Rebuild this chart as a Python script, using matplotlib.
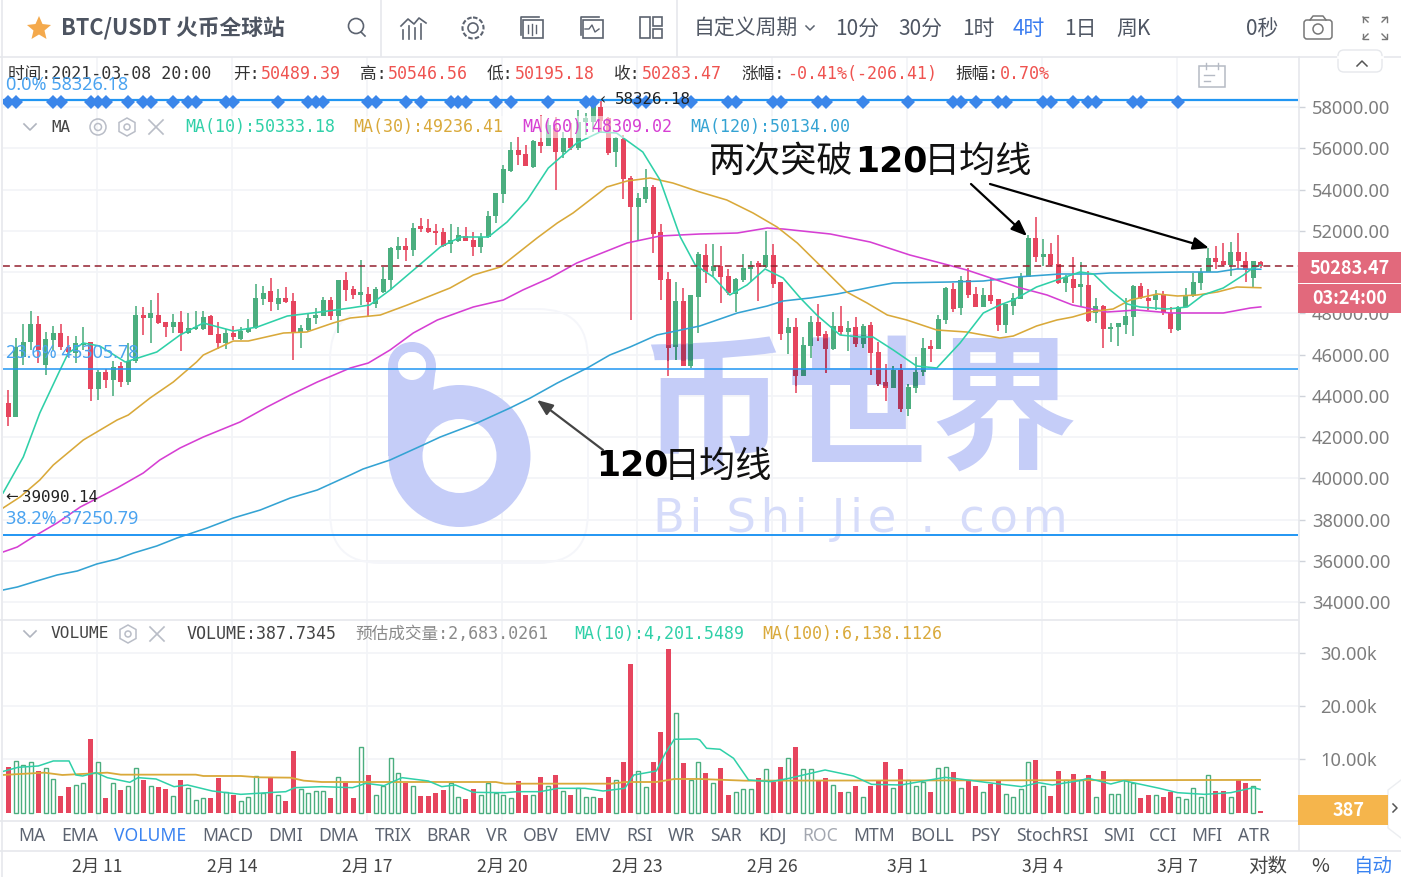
import matplotlib
matplotlib.use("Agg")
import matplotlib.pyplot as plt
from matplotlib.patches import Rectangle, Circle, Polygon, FancyBboxPatch, Wedge
from matplotlib.textpath import TextPath
from matplotlib.font_manager import FontProperties
from matplotlib.transforms import Affine2D

opens = [43630,42990,45900,46590,47480,45490,46700,47060,46380,46060,
46460,46620,44310,45170,44770,45440,44680,45700,47920,47750,
47920,47560,47320,47560,47030,47220,47220,47870,46980,46580,
47030,46740,47080,47270,48680,49100,48450,48720,48590,47110,
47190,47750,47870,48640,47880,49610,49160,48900,48930,48450,
49050,49610,51070,51280,51070,52230,52120,51990,51920,51340,
51520,51760,51550,51230,51680,52720,53770,54910,55920,55710,
55110,56320,56130,56970,55800,56510,56000,57290,57290,58020,
57450,55800,56430,54540,53170,53540,54140,51920,49660,46380,
48590,45460,48810,50830,50070,50310,49820,48920,49610,50150,
50420,50260,50830,49500,47060,47350,44970,46430,47560,46980,
46270,47400,47080,47350,46490,47430,46110,44650,44390,45250,
43340,44390,45140,46410,46270,47670,49180,48270,49610,48920,
48320,48890,48680,47430,48350,48680,49740,51660,50710,50860,
50390,49480,49660,49290,49370,48000,48370,47220,47320,47430,
47800,49340,48760,48640,48920,48000,47190,48290,48850,49450,
50020,50700,50530,50340,50990,50530,49690,50489.39]
closes = [42990,46380,46620,47480,46220,46750,47030,46380,46140,46540,
46580,44310,45170,44770,45410,44680,45700,47920,47750,48000,
47510,47320,47560,47030,47270,47350,47830,46930,46580,47030,
46870,47140,47270,48720,49000,48530,48720,48530,47060,47270,
47790,47920,48640,47880,49610,49130,48890,49030,48530,49160,
49660,51150,51280,51070,52120,52090,51960,51880,51260,51550,
51790,51520,51230,51680,52720,53810,54990,55920,55670,55160,
56350,56130,57130,55800,56510,56030,57290,57450,58100,57340,
55750,56480,54490,53170,53600,54110,51840,49610,46300,48590,
45460,48890,50860,50020,50310,49770,48970,49660,50210,50340,
50260,50830,49400,46990,47320,44970,46460,47560,46900,46250,
47400,47110,47270,46490,47400,46060,44550,44390,45250,43340,
44440,45170,46300,46270,47720,49210,48210,49610,48890,48320,
48890,48610,47430,48450,48720,49740,51660,50710,50860,50340,
49480,49740,49240,49400,47640,48370,47220,47350,47510,47870,
49340,48720,48610,48890,48000,47220,48320,48850,49530,50020,
50700,50500,50340,50990,50530,50100,50530,50283.47]
highs = [44280,46790,47480,48130,47870,47110,47380,47480,46900,46900,
47320,46620,45250,45280,45700,45650,46580,48350,48320,48640,
48970,47560,47960,48110,47990,48110,48110,47920,47590,47220,
47400,47350,47720,49400,49320,49730,49160,49290,49000,47430,
47950,48240,48800,48800,49610,50020,49320,50580,49290,49260,
50260,51230,51680,51630,52360,52630,52550,52310,52120,52310,
52200,52170,51960,51880,52960,53850,55190,56290,56560,56160,
56400,57610,57370,57530,56800,57210,57850,57690,58260,58326,
57530,56560,56640,54660,53810,54990,54220,52330,50020,49530,
49210,48890,50950,51340,51340,51280,50150,49730,50870,50530,
50530,51990,51340,49530,47790,47750,46870,47870,48430,47140,
48080,48370,47640,47800,47460,47560,46590,45540,45460,45520,
44560,45900,46790,46700,47920,49290,49450,49810,50180,49260,
49240,49690,48680,48450,48970,49940,51790,52650,51580,51390,
51790,49860,50740,50500,50050,48720,48400,47540,47540,48720,
49370,49450,49160,49130,49100,48290,48350,49210,49940,50210,
51150,51260,51390,51470,51880,50990,50530,50546.56]
lows = [42540,42950,45490,46220,45570,45010,46220,46220,45900,45570,
46220,43760,43800,44360,43990,44410,44520,45570,46950,46570,
47480,46830,47030,46170,46990,47190,47190,46930,46280,46270,
46700,46700,47060,47220,48400,48110,48160,48510,45730,46300,
47080,47460,47870,47670,47060,48610,48690,48400,47800,48240,
49000,49130,50610,50530,50790,51960,51910,51310,51200,50910,
51440,51500,50780,50940,51630,52360,53330,54870,55190,55160,
55030,55790,56130,53980,55510,55920,55920,56640,56800,56720,
55670,55110,53520,47670,51550,53330,50940,48640,44960,45730,
45460,45330,47030,49450,49800,48480,48890,48080,49530,49530,
48590,50180,49240,46700,46010,44120,44970,45850,46660,45090,
46220,46950,46190,46350,46300,45010,44470,43750,44390,43200,
43040,44120,44980,45620,46270,47480,48080,47920,48760,48320,
48320,48450,47160,47060,47920,48680,49740,50500,50310,50310,
49400,49020,48510,48350,47590,47510,46330,46620,46430,46990,
46910,48680,48160,48160,47920,47060,47160,48290,48810,49130,
50020,50150,50310,49810,50150,49530,49260,50195.18]
volumes = [8625,9750,8875,9438,7813,8313,6375,3063,4750,5250,
5563,13750,9438,2750,5500,4188,5000,8313,6125,5000,
4750,4438,3063,6125,4688,2375,2688,2750,6438,3938,
3313,2188,3000,6938,3625,6625,3250,2188,11500,4438,
3625,4125,4125,2750,6625,5625,2750,12250,7000,3250,
5000,10313,7500,5625,5000,3063,3063,3625,4188,5500,
3000,2500,4438,3250,5500,3750,3250,2688,5875,3313,
3250,6688,5000,7000,4125,3313,4563,3000,3000,2750,
6688,6063,9500,27875,7750,4750,9500,15125,30625,18750,
9250,6125,9500,7500,5500,8313,3313,3813,4438,4438,
6438,8125,5813,8625,10313,12313,8125,8125,6125,6438,
5250,3875,3875,5000,3000,5000,6125,9500,4688,8125,
6125,5000,5813,3875,8313,8625,7563,4688,6125,5000,
3875,5313,6125,3563,3000,4438,9438,9875,5000,3063,
7813,6125,7250,6125,7000,3000,7813,3563,3563,6125,
5500,2750,3313,3313,3000,3875,3000,2500,4688,3000,
7000,4125,4125,3000,6125,5563,5000,387]

ma10_i = [-0.7,2,4.2,6.9,8,10,12.2,15.6,19.8,22.9,26,30,33.2,37.2,41.6,45.6,48.2,50.9,54.5,57.6,60.3,64,66.5,69.2,72,75.8,78.9,81.1,84.6,86.9,89.6,91.6,94,96.2,98.5,100.9,103.3,105.6,107.8,110.9,113.6,115.3,118,121.1,123.8,126.9,130,132.2,134,137.1,139.8,142.9,144.7,146.9,149.2,150.9,154.5,155.9,157.2,159.3,162,164.7,165.9,167]
ma10_v = [39287,41032,43165,45250,46074,46558,46413,45637,46122,46946,47528,47140,47334,47867,48061,48255,48401,49128,50243,51212,51697,51697,52424,53491,55042,56254,56788,56739,55818,54461,51697,50340,49758,48885,49370,50146,49710,48739,47915,46946,46849,46849,46219,45443,45346,46558,48012,48400,48643,49273,49612,50000,49903,49128,48449,48304,48207,48255,48304,48885,49225,49855,50190,50333]
ma30_i = [-0.7,1.56,4.2,6,10,14.5,16,18.9,22,25.1,26,30,32,36.7,39.8,43.3,45.6,49.6,53.2,58.9,62,65.6,70.5,73.2,75.3,79.8,82.5,85.6,88.6,92.2,95.8,99.3,102.5,105.2,107.9,111.8,114.5,117.2,119.8,123.8,127.8,132.2,134,137.1,139.8,141.9,144.2,147.3,149.6,153.2,155.9,158.5,161.2,163.8,167]
ma30_v = [38559,39092,39917,40643,41856,42825,43068,43892,44668,45637,45976,46655,46655,47043,47092,47528,47770,47915,48400,49225,49855,50243,51649,52376,52861,54121,54412,54558,54315,53879,53491,52861,52182,51406,50437,49031,48498,47915,47673,47188,47091,46800,46897,47383,47673,47818,48061,48207,48643,48934,48837,48885,49031,49273,49236]
ma60_i = [-0.7,1.2,3.3,6.5,9.6,12.2,14.5,18,20.2,22.9,26,30.9,34.5,37.6,41.2,45.6,48,50.9,54,57.2,62,66,68.6,72.2,75.8,82.5,86.9,92.2,97.2,101.2,103.3,109.6,114.9,120.2,123.8,127.8,132.2,134.5,138.5,141.9,146.5,150.5,155,162,165.6,167]
ma60_v = [36426,36668,37153,37832,38608,39092,39529,40256,40886,41468,42001,42729,43456,44037,44667,45346,45588,46219,47044,47673,48304,48643,49128,49710,50437,51406,51746,51843,51891,52133,52085,51843,51455,50825,50485,50098,49564,49273,48885,48400,48061,48158,48013,48013,48255,48309]
ma120_i = [-0.7,1.2,3.8,6.5,9.2,11.8,14.5,16.7,19.8,22.5,26.5,30,33.6,37.6,41.2,45.6,47.3,50.9,55.3,57.6,62.5,66.9,69.6,73.2,77.2,80.2,82.9,86.5,92.2,97.2,101.2,103.3,106.9,110.5,115.8,118,125.6,130,134.5,140.2,144.7,146.9,156.6,161.2,163.8,167]
ma120_v = [34584,34729,35020,35311,35505,35845,36086,36377,36718,37105,37590,38074,38462,39044,39432,40159,40450,40886,41613,42001,42680,43407,43892,44619,45347,45977,46364,46946,47383,48013,48352,48594,48740,48934,49322,49467,49516,49564,49758,49903,49903,49952,50000,50000,50146,50134]

volma10_i = [-0.8,1.3,4,6,8.1,9,9.9,11.7,13.2,16.2,17.3,19.7,22.1,23.9,27.2,31,34.6,37,38.2,41.8,45.9,47.7,50.1,52.5,56,57.8,59.6,62,66.2,67.9,70.9,73.3,76.9,79.3,82.2,83.4,86.4,87.6,88.8,91.8,92.2,93.1,94.9,96.7,98.7,101.7,104.1,108.9,112.7,115.1,119,124.9,127.9,130.3,135.1,137.4,139.2,142.8,144,147,148.7,153.5,155.9,159.5,163,166,166.9]
volma10_v = [7688,8500,8750,9688,9688,7063,6875,7500,6563,5688,6563,6313,4875,5188,4063,3438,3750,3938,4688,4875,4688,5500,5063,6563,5938,4875,5188,3813,3750,3938,3938,4563,4563,4063,4563,7063,7813,11125,13750,13813,13625,12063,11875,10188,6125,5813,6438,8000,6875,5313,5188,6625,6125,5688,4875,5625,5188,6000,6438,5375,6000,4563,3750,3438,3750,4688,4375]
volma100_i = [-0.8,4.8,7.2,13.2,15,25,26,31,33.4,37.6,39.4,41.8,65,66.2,80.4,82.2,86.4,88.8,92.2,98.2,150,166.9]
volma100_v = [7063,7500,7063,7500,7125,7125,6875,6875,6625,6563,6000,5750,5750,5438,5438,5750,5750,6313,6313,6000,6100,6138]

diamond_bars = [0,1,6,7,11,12,13,16,18,19,22,24,25,29,30,36,40,41,42,48,49,53,55,59,60,61,65,67,72,77,78,84,85,90,91,96,97,102,103,108,109,114,120,126,127,129,132,133,138,139,142,144,145,150,151,156]
fib_levels = [58326.18, 45305.78, 37250.79]
fib_names = ["0.0% 58326.18", "23.6% 45305.78", "38.2% 37250.79"]
last_price = 50283.47

price_ticks = [34000,36000,38000,40000,42000,44000,46000,48000,50000,52000,54000,56000,58000]
vol_ticks = [10000,20000,30000]
vol_labels = ["10.00k","20.00k","30.00k"]
date_bars = [11.83,29.83,47.83,65.83,83.83,101.83,119.83,137.83,155.83]
date_labels = ["2月 11","2月 14","2月 17","2月 20","2月 23","2月 26","3月 1","3月 4","3月 7"]
indicators = ["MA","EMA","VOLUME","MACD","DMI","DMA","TRIX","BRAR","VR","OBV","EMV","RSI","WR","SAR","KDJ","ROC","MTM","BOLL","PSY","StochRSI","SMI","CCI","MFI","ATR"]
indicator_x = [32,80,150,228,286,338,393,448,497,541,592,639,681,726,772,820,874,932,985,1052,1119,1163,1207,1254]

W, H = 1401, 877
RED, GREEN = "#e6455e", "#4bae7f"
RED_WM, GREEN_WM = "#b2375b", "#3a8c7b"
GRID = "#f2f4f7"
TEAL, GOLD, MAG, BLUE = "#2fd0a8", "#d9a93a", "#d63fd3", "#34a3d3"
FIB = "#2196f3"
WM = "#c5cdf8"
CJK = "Noto Sans CJK SC"
MONO = ["DejaVu Sans Mono", CJK]
plt.rcParams["font.family"] = [CJK, "DejaVu Sans"]

fig = plt.figure(figsize=(W/100, H/100), dpi=100, facecolor="white")
def axes_px(x0, y0, x1, y1, **k):
    return fig.add_axes([x0/W, 1-y1/H, (x1-x0)/W, (y1-y0)/H], **k)

ix = lambda x: (x-8.3)/7.5
n = len(closes)
bars = list(range(n))

# overlay in pixels (chrome, labels)
o = fig.add_axes([0, 0, 1, 1], facecolor="none")
o.set_xlim(0, W); o.set_ylim(H, 0); o.axis("off"); o.set_zorder(10)

# ---------- price pane
ax = axes_px(3, 57, 1298, 619)
ax.set_xlim(ix(3), ix(1298))
ax.set_ylim(63187-48.48*619, 63187-48.48*57)
ax.set_autoscale_on(False)
for sp in ax.spines.values():
    sp.set_visible(False)
ax.grid(True, color=GRID, lw=1.2)
ax.set_axisbelow(True)
ax.set_xticks(date_bars)
ax.tick_params(axis="x", length=0, labelbottom=False)
ax.yaxis.tick_right()
ax.set_yticks(price_ticks)
ax.set_yticklabels([f"{t:.2f}" for t in price_ticks], color="#7d7d7d", fontsize=13.2, family="Noto Sans")
ax.tick_params(axis="y", length=5, color="#cfd3da", pad=5, width=1)

# watermark, below the marks
T = o.transData
ax.add_patch(FancyBboxPatch((330,309),258,254,boxstyle="round,pad=0,rounding_size=50",fc="none",ec="#f5f6fa",lw=1.4,zorder=1,transform=T))
ax.add_patch(Wedge((459.5,456),71,0,360,width=34,fc=WM,ec="none",zorder=1,transform=T))
ax.add_patch(Polygon([(388,366),(388,456),(400,456),(425,432),(433,392),(436,366)],fc=WM,ec="none",zorder=1,transform=T))
ax.add_patch(Wedge((412,366),24,0,360,width=10,fc=WM,ec="none",zorder=1,transform=T))
ax.add_patch(Circle((412,366),14,fc="white",ec="none",zorder=1.2,transform=T))
WM_X, WM_Y, WM_S = 640, 458, 105
ax.text(WM_X,WM_Y,"币世界",fontsize=WM_S,fontweight="bold",family=CJK,color=WM,ha="left",va="baseline",zorder=1,transform=T)
ax.text(860,520,"\u200a".join("Bi Shi Jie . com"),fontsize=33.5,color="#d6dcfa",ha="center",va="center",family="DejaVu Sans",zorder=1,transform=T)

up = [c >= o_ for o_, c in zip(opens, closes)]
cols = [GREEN if u else RED for u in up]
body_h = [abs(c-o_) for o_, c in zip(opens, closes)]
body_b = [min(o_, c) for o_, c in zip(opens, closes)]
ax.vlines(bars, lows, highs, colors=cols, lw=1.15, zorder=3)
ax.bar(bars, body_h, bottom=body_b, width=0.68, color=cols, linewidth=0, zorder=3)
# the marks look darker where the watermark glyphs lie over them
tp = TextPath((0,0),"币世界",size=WM_S,prop=FontProperties(family=CJK,weight="bold"))
tp_tf = Affine2D().scale(100/72,-100/72).translate(WM_X,WM_Y)+T
cols_wm = [GREEN_WM if u else RED_WM for u in up]
lc = ax.vlines(bars, lows, highs, colors=cols_wm, lw=1.15, zorder=3.2)
lc.set_clip_path(tp, tp_tf)
for p in ax.bar(bars, body_h, bottom=body_b, width=0.68, color=cols_wm, linewidth=0, zorder=3.2):
    p.set_clip_path(tp, tp_tf)

for xs, ys, c in [(ma120_i, ma120_v, BLUE), (ma60_i, ma60_v, MAG), (ma30_i, ma30_v, GOLD), (ma10_i, ma10_v, TEAL)]:
    ax.plot(xs, ys, color=c, lw=1.15, zorder=4, solid_joinstyle="round")
for lv, lw in zip(fib_levels, [1.6, 1.1, 1.4]):
    ax.axhline(lv, color=FIB, lw=lw, zorder=5)
ax.axhline(last_price, color="#93202f", lw=1.1, ls=(0, (4.5, 3)), zorder=5)
ax.plot(diamond_bars, [58240]*len(diamond_bars), ls="none", marker="D", ms=7.6, color="#3b86ea", mew=0, zorder=6)

# ---------- volume pane
av = axes_px(3, 620, 1298, 820)
av.set_xlim(ix(3), ix(1298))
av.set_ylim(-(820-812.7)/53.4*10000, (812.7-620)/53.4*10000)
for sp in av.spines.values():
    sp.set_visible(False)
av.grid(True, color=GRID, lw=1.2)
av.set_axisbelow(True)
av.set_xticks(date_bars)
av.tick_params(axis="x", length=0, labelbottom=False)
av.yaxis.tick_right()
av.set_yticks(vol_ticks)
av.set_yticklabels(vol_labels, color="#7d7d7d", fontsize=13.2, family="Noto Sans")
av.tick_params(axis="y", length=5, color="#cfd3da", pad=11, width=1)
for i, v, u in zip(bars, volumes, up):
    if u:
        av.bar(i, v, width=0.55, facecolor="white", edgecolor=GREEN, linewidth=1.0, zorder=3)
    else:
        av.bar(i, v, width=0.62, color=RED, linewidth=0, zorder=3)
av.plot(volma100_i, volma100_v, color=GOLD, lw=1.3, zorder=4)
av.plot(volma10_i, volma10_v, color=TEAL, lw=1.1, zorder=5)

LINE = "#e6e8ec"
for (a, b, c, d) in [(0,56.5,W,56.5),(0,619.5,1298,619.5),(0,820.5,1298,820.5),(0,850.5,W,850.5),
                     (1298.5,57,1298.5,850),(2,0,2,877),(381,0,381,56),(677,0,677,56)]:
    o.plot([a,c],[b,d],color=LINE,lw=1.2,zorder=2)

def t(x, y, s, color="#333", size=12, ha="left", family=None, weight="normal", **k):
    return o.text(x, y+1, s, color=color, fontsize=size, ha=ha, va="center", family=family or CJK, fontweight=weight, zorder=12, **k)

# toolbar
star = [(39,16),(42.5,24),(51,25),(44.5,30.5),(46.5,39),(39,34.5),(31.5,39),(33.5,30.5),(27,25),(35.5,24)]
o.add_patch(Polygon(star,fc="#f4a94c",ec="none",zorder=12))
t(61,28,"BTC/USDT 火币全球站","#4d5461",15.7,weight="bold")
IC = "#5c6370"
o.add_patch(Circle((356,26),7.5,fc="none",ec=IC,lw=1.2,zorder=12))
o.plot([361,365],[32,36],color=IC,lw=1.2,zorder=12)
for xi,h in zip([403,409,415,421],[9,13,11,15]):
    o.plot([xi,xi],[39,39-h],color=IC,lw=1.2,zorder=12)
o.plot([401,408,414,419,426],[26,19,24,18,23],color=IC,lw=1.2,zorder=12)
o.add_patch(Circle((473,28),5,fc="none",ec=IC,lw=1.2,zorder=12))
o.add_patch(Circle((473,28),10.5,fc="none",ec=IC,lw=1.5,ls=(0,(2.2,1)),zorder=12))
for x0 in (532,592):
    o.add_patch(Rectangle((x0-9,20),20,18,fc="none",ec=IC,lw=1.2,zorder=12))
    o.plot([x0-11,x0-11,x0+7],[35,17,17],color=IC,lw=1.2,zorder=12)
for xi,h in zip([528,532,536],[8,11,8]):
    o.plot([xi,xi],[29-h/2,29+h/2],color=IC,lw=1,zorder=12)
o.plot([585,589,592,595,599],[29,29,25,32,29],color=IC,lw=1,zorder=12)
o.add_patch(Rectangle((640,17),10,21,fc="none",ec=IC,lw=1.2,zorder=12))
o.add_patch(Rectangle((653,17),9,9,fc="none",ec=IC,lw=1.2,zorder=12))
o.add_patch(Rectangle((653,29),9,9,fc="none",ec=IC,lw=1.2,zorder=12))
t(694,28,"自定义周期","#4f5663",15)
o.plot([806,810,814],[26,30,26],color=IC,lw=1.1,zorder=12)
for x0,s,c in [(857,"10分","#4f5663"),(920,"30分","#4f5663"),(978,"1时","#4f5663"),(1029,"4时","#3a7cf0"),(1080,"1日","#4f5663"),(1133,"周K","#4f5663"),(1262,"0秒","#4f5663")]:
    t(x0,28,s,c,15,ha="center")
o.add_patch(FancyBboxPatch((1304,20),28,19,boxstyle="round,pad=0,rounding_size=3",fc="none",ec="#777",lw=1.1,zorder=12))
o.plot([1310,1313,1323,1326],[20,16,16,20],color="#777",lw=1.1,zorder=12)
o.add_patch(Circle((1318,29),5,fc="none",ec="#777",lw=1.1,zorder=12))
for sx,sy in [(-1,-1),(1,-1),(-1,1),(1,1)]:
    cx,cy=1375+sx*12,28+sy*11
    o.plot([cx-sx*5,cx,cx],[cy,cy,cy-sy*5],color="#777",lw=1,zorder=12)
    o.plot([cx,cx-sx*5],[cy,cy-sy*5],color="#777",lw=1,zorder=12)

# OHLC header
S = 12
for x0,s,c in [(8,"时间:2021-03-08 20:00","#333"),(233,"开:","#333"),(261,"50489.39","#ef5350"),(360,"高:","#333"),(388,"50546.56","#ef5350"),
               (487,"低:","#333"),(515,"50195.18","#ef5350"),(614,"收:","#333"),(642,"50283.47","#ef5350"),(741,"涨幅:","#333"),(787,"-0.41%(-206.41)","#ef5350"),
               (955,"振幅:","#333"),(1000,"0.70%","#ef5350")]:
    t(x0,73,s,c,S,family=MONO)
o.add_patch(Rectangle((1199,66),26,21,fc="none",ec="#b5bac4",lw=1.1,zorder=12))
for xx in (1206,1218):
    o.plot([xx,xx],[63,69],color="#b5bac4",lw=1,zorder=12)
o.plot([1204,1214],[75,75],color="#b5bac4",lw=1,zorder=12)
o.plot([1204,1210],[81,81],color="#b5bac4",lw=1,zorder=12)
o.add_patch(FancyBboxPatch((1338,50),44,22,boxstyle="round,pad=0,rounding_size=6",fc="white",ec="#e6e8ec",lw=1,zorder=11))
o.plot([1338,1382],[56.5,56.5],color="white",lw=2,zorder=11)
o.plot([1357,1362,1367],[66,61,66],color="#555",lw=1.1,zorder=12)

# fib labels
FT = "#4aa3f0"
for y0,s in zip([84,352,518],fib_names):
    t(6,y0,s,FT,13,family="Noto Sans")
t(600,99,"‹",  "#222",11,family="DejaVu Sans")
t(615,99,"58326.18","#222",11.4,family="DejaVu Sans Mono")
t(5,496,"←","#222",11,family="DejaVu Sans")
t(22,496,"39090.14","#222",11.4,family="DejaVu Sans Mono")

# legends
def legend_icons(x_hide,y,eye=True):
    o.plot([24,30,36],[y-3,y+3,y-3],color="#b0b5bf",lw=1.2,zorder=12)
    if eye:
        o.add_patch(Circle((98,y),8,fc="none",ec="#b9bdc7",lw=1.1,zorder=12))
        o.add_patch(Circle((98,y),3.5,fc="none",ec="#b9bdc7",lw=1.1,zorder=12))
    hx=x_hide
    o.add_patch(Polygon([(hx,y-9),(hx+8,y-4.5),(hx+8,y+4.5),(hx,y+9),(hx-8,y+4.5),(hx-8,y-4.5)],fc="none",ec="#b9bdc7",lw=1.1,zorder=12))
    o.add_patch(Circle((hx,y),3,fc="none",ec="#b9bdc7",lw=1.1,zorder=12))
    o.plot([hx+22,hx+36],[y-7,y+7],color="#b9bdc7",lw=1.2,zorder=12)
    o.plot([hx+22,hx+36],[y+7,y-7],color="#b9bdc7",lw=1.2,zorder=12)
legend_icons(127,127)
t(51,126,"MA","#444",11.4,family=MONO)
BG = dict(facecolor="white", alpha=0.55, edgecolor="none", pad=1.5)
for x0,s,c in [(185,"MA(10):50333.18",TEAL),(353,"MA(30):49236.41",GOLD),(522,"MA(60):48309.02",MAG),(690,"MA(120):50134.00",BLUE)]:
    t(x0,126,s,c,12,family=MONO,bbox=BG)
legend_icons(128,634,eye=False)
t(51,633,"VOLUME","#444",11.7,family=MONO)
for x0,s,c in [(187,"VOLUME:387.7345","#444"),(355,"预估成交量:2,683.0261","#8a8a8a"),(574,"MA(10):4,201.5489",TEAL),(762,"MA(100):6,138.1126",GOLD)]:
    t(x0,633,s,c,12,family=MONO)

# price boxes
o.add_patch(Rectangle((1298,252),103,31,fc="#e2697c",ec="none",zorder=11))
o.add_patch(Rectangle((1298,284),103,29,fc="#e2697c",ec="none",zorder=11))
t(1350,267,"50283.47","white",13,ha="center",weight="bold")
t(1350,298,"03:24:00","white",13,ha="center",weight="bold")
o.add_patch(Rectangle((1298,795),90,30,fc="#f5b54c",ec="none",zorder=11))
t(1349,810,"387","white",13,ha="center",weight="bold")
o.plot([1393,1397,1393],[804,808,812],color="#555",lw=1.1,zorder=12)
o.plot([1401,1388,1388,1401],[780,790,828,838],color="#eceef1",lw=1,zorder=10)

# annotations
def arrow(x0,y0,x1,y1,c="black"):
    o.annotate("",xy=(x1,y1),xytext=(x0,y0),zorder=13,
               arrowprops=dict(arrowstyle="-|>,head_width=0.38,head_length=0.95",color=c,lw=1.6,shrinkA=0,shrinkB=0))
arrow(971,184,1027,236)
arrow(990,184,1209,248)
arrow(603,450,537,400,"#444")
def s1(x,y,s,size=26): t(x,y,s,"#111",size,family=CJK)
s1(709,161,"两次突破")
t(855,160,"120","black",25,family="DejaVu Sans",weight="bold")
s1(924,161,"日均线")
t(596,465,"120","black",25,family="DejaVu Sans",weight="bold")
s1(664,466,"日均线")

# indicator tabs and axis labels
for x0,s in zip(indicator_x,indicators):
    c = "#3a83f1" if s=="VOLUME" else ("#a3a7b0" if s=="ROC" else "#5c6370")
    t(x0,835,s,c,12.6,ha="center",family="Noto Sans")
for b,s in zip(date_bars,date_labels):
    t(8.3+7.5*b,866,s,"#444",12.6,ha="center")
t(1268,865,"对数","#444",14,ha="center")
t(1320,865,"%","#444",14,ha="center")
t(1373,865,"自动","#3a83f1",14,ha="center")

fig.savefig("out.png", dpi=100, facecolor="white")
